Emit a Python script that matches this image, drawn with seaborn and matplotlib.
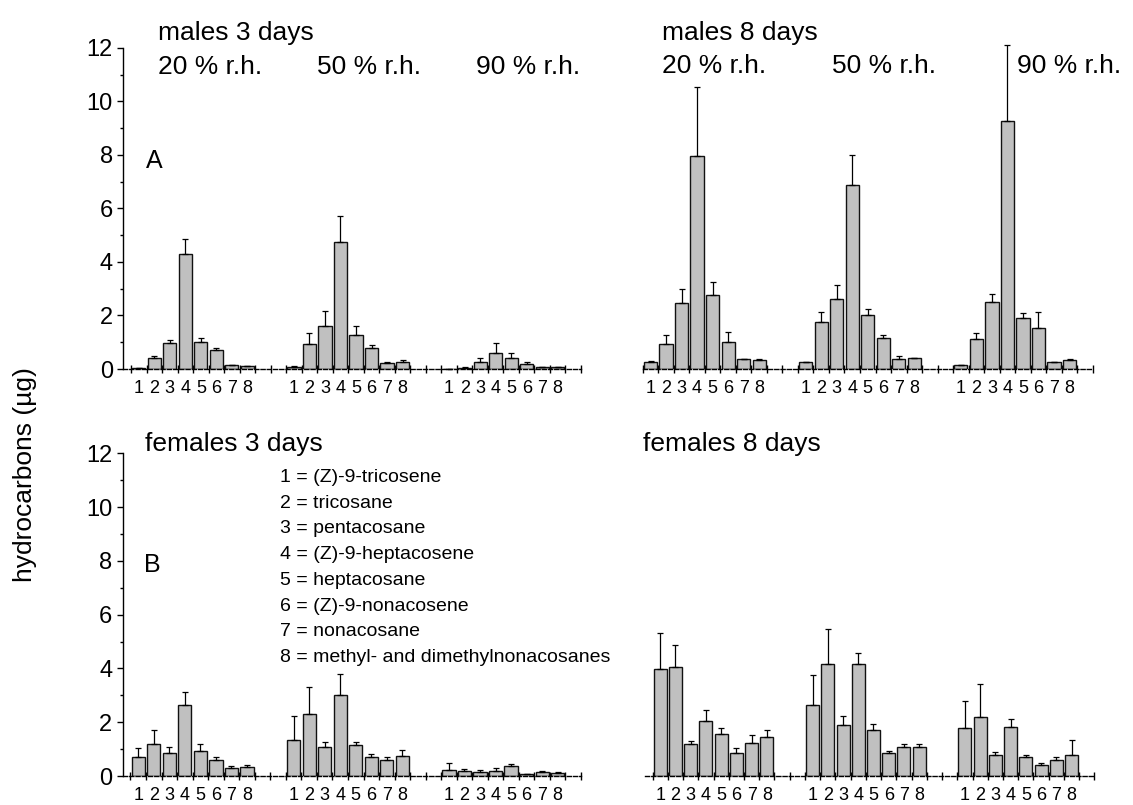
import numpy as np
import pandas as pd
import matplotlib
matplotlib.use("Agg")
import matplotlib.pyplot as plt
import seaborn as sns

compounds = ['1', '2', '3', '4', '5', '6', '7', '8']
humidity = ['20 % r.h.', '50 % r.h.', '90 % r.h.']

# mean amounts (ug), one row per humidity (20, 50, 90 % r.h.), columns = compounds 1..8
males_3d_mean = [[0.03, 0.42, 0.96, 4.28, 1.00, 0.70, 0.14, 0.10],
                 [0.09, 0.95, 1.61, 4.73, 1.28, 0.80, 0.21, 0.27],
                 [0.00, 0.05, 0.27, 0.61, 0.41, 0.20, 0.08, 0.06]]
males_3d_sd = [[0.01, 0.07, 0.12, 0.56, 0.15, 0.10, 0.02, 0.02],
               [0.01, 0.38, 0.57, 0.98, 0.33, 0.08, 0.05, 0.08],
               [0.00, 0.01, 0.14, 0.38, 0.20, 0.08, 0.01, 0.01]]

males_8d_mean = [[0.25, 0.95, 2.48, 7.94, 2.75, 1.00, 0.36, 0.34],
                 [0.27, 1.74, 2.60, 6.86, 2.00, 1.15, 0.39, 0.41],
                 [0.14, 1.11, 2.51, 9.27, 1.92, 1.52, 0.27, 0.34]]
males_8d_sd = [[0.04, 0.32, 0.52, 2.60, 0.51, 0.39, 0.01, 0.05],
               [0.01, 0.38, 0.54, 1.12, 0.25, 0.11, 0.08, 0.01],
               [0.01, 0.23, 0.29, 2.83, 0.16, 0.60, 0.01, 0.03]]

females_3d_mean = [[0.69, 1.18, 0.87, 2.63, 0.93, 0.58, 0.29, 0.33],
                   [1.34, 2.32, 1.07, 3.00, 1.15, 0.71, 0.60, 0.74],
                   [0.21, 0.19, 0.15, 0.20, 0.38, 0.06, 0.14, 0.12]]
females_3d_sd = [[0.36, 0.52, 0.22, 0.51, 0.26, 0.13, 0.08, 0.07],
                 [0.88, 1.00, 0.18, 0.78, 0.11, 0.11, 0.11, 0.24],
                 [0.26, 0.08, 0.07, 0.11, 0.07, 0.01, 0.05, 0.04]]

females_8d_mean = [[3.97, 4.04, 1.18, 2.03, 1.56, 0.87, 1.24, 1.44],
                   [2.64, 4.17, 1.90, 4.17, 1.70, 0.87, 1.07, 1.07],
                   [1.77, 2.18, 0.77, 1.82, 0.72, 0.40, 0.60, 0.77]]
females_8d_sd = [[1.34, 0.83, 0.13, 0.41, 0.23, 0.16, 0.28, 0.27],
                 [1.10, 1.28, 0.32, 0.39, 0.22, 0.07, 0.12, 0.12],
                 [1.01, 1.23, 0.11, 0.29, 0.06, 0.07, 0.11, 0.56]]

legend_lines = ['1 = (Z)-9-tricosene', '2 = tricosane', '3 = pentacosane',
                '4 = (Z)-9-heptacosene', '5 = heptacosane', '6 = (Z)-9-nonacosene',
                '7 = nonacosane', '8 = methyl- and dimethylnonacosanes']

sns.set_style("ticks")
plt.rcParams['font.family'] = ['Liberation Sans', 'DejaVu Sans']
plt.rcParams.update({'text.color': 'black', 'axes.edgecolor': 'black',
                     'xtick.color': 'black', 'ytick.color': 'black',
                     'axes.labelcolor': 'black'})

W, H = 1133, 805
fig = plt.figure(figsize=(W / 100, H / 100), dpi=100)


def draw_panel(ax, means, sds, xlim, show_y):
    rows = []
    for g, rh in enumerate(humidity):
        for c, comp in enumerate(compounds):
            rows.append({'rh': rh, 'compound': comp, 'pos': g * 10 + c,
                         'mean': means[g][c], 'sd': sds[g][c]})
    df = pd.DataFrame(rows)
    sns.barplot(data=df, x='pos', y='mean', native_scale=True, orient='x',
                width=0.85, color='#c0c0c0', saturation=1, edgecolor='#111111',
                linewidth=1.0, errorbar=None, ax=ax)
    eb = ax.errorbar(df['pos'], df['mean'], yerr=[np.zeros(len(df)), df['sd']],
                     fmt='none', ecolor='black', elinewidth=0.9, capsize=2.5,
                     capthick=0.9)
    for art in list(eb.lines[1]) + list(eb.lines[2]):
        art.set_clip_on(False)

    ax.set_xlim(*xlim)
    ax.set_ylim(0, 12)
    ax.set_xticks(df['pos'])
    ax.set_xticklabels(df['compound'])
    ax.set_xticks(np.arange(-0.5, 29, 1), minor=True)
    ax.tick_params(axis='x', which='major', length=0, labelsize=13, pad=8,
                   labelcolor='black')
    ax.tick_params(axis='x', which='minor', direction='inout', length=6, width=1,
                   color='black')
    ax.set_xlabel('')
    ax.set_ylabel('')
    sns.despine(ax=ax)
    ax.spines['bottom'].set_linewidth(1)
    ax.spines['bottom'].set_color('black')
    ax.spines['bottom'].set_linestyle((0, (3, 1.5)))
    if show_y:
        ax.set_yticks(range(0, 13, 2))
        ax.set_yticks(range(1, 12, 2), minor=True)
        ax.tick_params(axis='y', which='major', direction='out', length=4.5,
                       width=1, labelsize=17, pad=3, color='black',
                       labelcolor='black')
        ax.tick_params(axis='y', which='minor', direction='out', length=2.5,
                       width=1, color='black')
        ax.spines['left'].set_linewidth(1)
        ax.spines['left'].set_color('black')
    else:
        ax.spines['left'].set_visible(False)
        ax.tick_params(axis='y', which='both', left=False, labelleft=False)


ax_tl = fig.add_axes([0.1088, 0.5416, 0.4040, 0.3991])
ax_tr = fig.add_axes([0.5673, 0.5416, 0.3972, 0.3991])
ax_bl = fig.add_axes([0.1083, 0.0360, 0.4045, 0.4009])
ax_br = fig.add_axes([0.5693, 0.0360, 0.3966, 0.4009])

draw_panel(ax_tl, males_3d_mean, males_3d_sd, (-1, 28.5), True)
draw_panel(ax_tr, males_8d_mean, males_8d_sd, (-0.5, 28.5), False)
draw_panel(ax_bl, females_3d_mean, females_3d_sd, (-1, 28.5), True)
draw_panel(ax_br, females_8d_mean, females_8d_sd, (-1, 28.5), False)


def put(x, y, s, size, **kw):
    fig.text(x / W, 1 - y / H, s, fontsize=size, va='baseline', ha='left',
             color='black', **kw)


put(158, 40, 'males 3 days', 19)
put(158, 74, humidity[0], 19)
put(317, 74, humidity[1], 19)
put(476, 74, humidity[2], 19)
put(146, 168, 'A', 18)

put(662, 40, 'males 8 days', 19)
put(662, 73, humidity[0], 19)
put(832, 73, humidity[1], 19)
put(1017, 73, humidity[2], 19)

put(145, 451, 'females 3 days', 19)
put(144, 572, 'B', 18)
for i, line in enumerate(legend_lines):
    put(280, 482 + i * 25.7, line, 14)

put(643, 451, 'females 8 days', 19)

fig.text(25 / W, 1 - 475 / H, 'hydrocarbons (\u00b5g)', fontsize=19,
         rotation=90, va='center', ha='center', color='black')

fig.savefig('out.png', dpi=100)
